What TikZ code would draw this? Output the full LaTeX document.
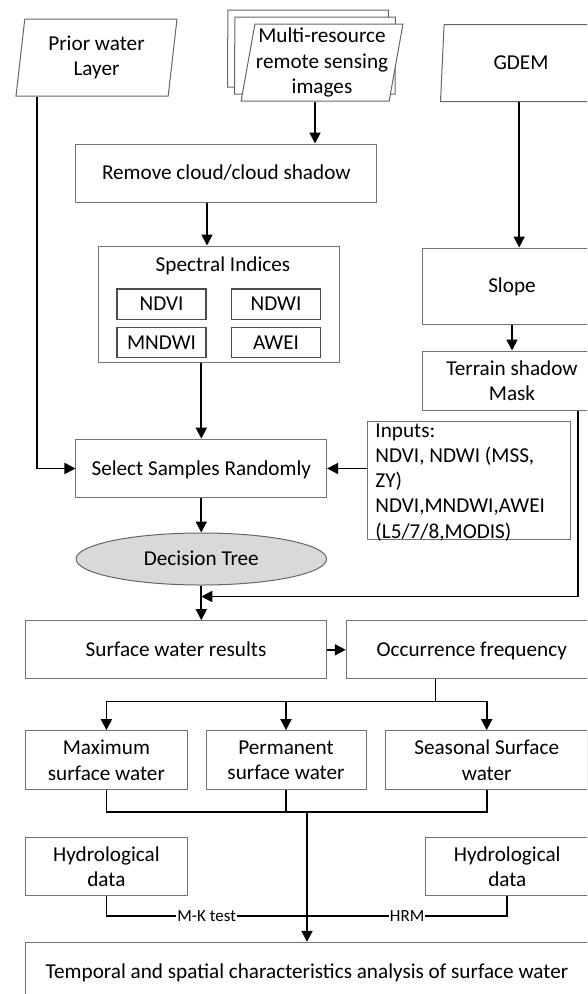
\documentclass[tikz,border=0pt]{standalone}
\usepackage{fontspec}
\setmainfont{Carlito}
\usetikzlibrary{shapes.geometric,arrows.meta}

\begin{document}
\begin{tikzpicture}[
  x=1pt, y=-1pt,
  font=\fontsize{21.2}{25.3}\selectfont,
  box/.style={draw=black!55, line width=1pt, fill=white, align=center,
               inner sep=2pt},
  single/.style={text height=15pt, text depth=1.5pt},
  datain/.style={trapezium, trapezium left angle=79, trapezium right angle=101,
               trapezium stretches body, draw=black!60, line width=1pt,
               fill=white, align=center, minimum width=161, minimum height=77,
               inner sep=1pt},
  idx/.style={draw=black!70, line width=1.3pt, minimum width=89,
               minimum height=30.3, inner sep=1pt, single},
  dtree/.style={ellipse, draw=black!60, line width=1pt, fill=gray!30,
               minimum width=250.5, minimum height=52, inner sep=0pt, single},
  arrow/.style={-{Triangle[length=11pt,width=11pt]}, line width=1.8pt},
  link/.style={line width=1.8pt},
  lbl/.style={fill=white, inner sep=1pt, font=\fontsize{17}{20}\selectfont},
]
\path[use as bounding box, fill=white] (0,0) rectangle (587,994);
\clip (0,0) rectangle (587,994);

% Dữ liệu vào: ba hình bình hành
\node[datain] (prior) at (96.5,57.5) {Prior water\\Layer};
\node[datain] (multiA) at (308,48.7) {};
\node[datain] (multiB) at (315,55.7) {};
\node[datain] (multi) at (322,62.7) {Multi-resource\\remote sensing\\images};
\node[datain, single] (gdem) at (521,63) {GDEM};

% Cột giữa: xử lý ảnh
\node[box, single, minimum width=300.7, minimum height=58] (remove)
  at (226.3,173) {Remove cloud/cloud shadow};
\node[box, minimum width=241, minimum height=116] (spec) at (218.5,304) {};
\node[anchor=north, inner sep=0pt, single] (specT)
  at ([xshift=4.5,yshift=-11]spec.north) {Spectral Indices};
\node[idx] (ndvi) at (161.5,304.2) {NDVI};
\node[idx, node distance=114.5, right of=ndvi] (ndwi) {NDWI};
\node[idx, node distance=38.1, below of=ndvi] (mndwi) {MNDWI};
\node[idx, node distance=114.5, right of=mndwi] (awei) {AWEI};
\node[box, single, minimum width=250.7, minimum height=58.7] (select)
  at (201.3,468.5) {Select Samples Randomly};
\node[dtree, node distance=90.5, below of=select] (tree) {Decision Tree};

% Cột phải: địa hình
\node[box, single, minimum width=180, minimum height=76] (slope)
  at (512,286) {Slope};
\node[box, minimum width=180, minimum height=59, node distance=94.5,
  below of=slope] (terrain) {Terrain shadow\\Mask};
\node[box, align=flush left, text width=187.7, inner xsep=7.8, inner ysep=0pt,
  text height=16pt, text depth=102.3pt] (inputs) at (469.3,480.2)
  {Inputs:\\NDVI, NDWI (MSS,\\ZY)\\NDVI,MNDWI,AWEI\\(L5/7/8,MODIS)};

% Kết quả và phân tích
\node[box, single, minimum width=301, minimum height=58.3, node distance=90.8,
  below of=tree, xshift=-25.3] (surface) {Surface water results};
\node[box, single, minimum width=250.8, minimum height=58.3, node distance=295.7,
  right of=surface] (occur) {Occurrence frequency};
\node[box, minimum width=161.7, minimum height=59.3, node distance=110.5,
  below of=surface, xshift=-69.6] (maxsw) {Maximum\\surface water};
\node[box, minimum width=160, minimum height=59.3, node distance=179.6,
  right of=maxsw] (permsw) {Permanent\\surface water};
\node[box, minimum width=202.2, minimum height=59.3, node distance=200.7,
  right of=permsw] (seassw) {Seasonal Surface\\water};
\node[box, minimum width=161.7, minimum height=58.3, node distance=106.5,
  below of=maxsw] (hydro1) {Hydrological\\data};
\node[box, minimum width=163.2, minimum height=58.3, node distance=400.9,
  right of=hydro1] (hydro2) {Hydrological\\data};
\node[box, single, minimum width=563, minimum height=58, node distance=104.5,
  below of=hydro1, xshift=200.6] (temporal)
  {Temporal and spatial characteristics analysis of surface water};

% Điểm nối
\coordinate (pw) at ([xshift=21.7]prior.bottom left corner);
\coordinate (rs) at ([xshift=-19.3]remove.south);
\coordinate (ts) at ([xshift=66]terrain.south);
\coordinate (dt) at ([yshift=-11]tree.south);
\coordinate (fork) at ([xshift=-36.3,yshift=-22]occur.south);
\coordinate (join) at ([yshift=-21.7]permsw.south -| temporal.north);
\coordinate (mk) at ([yshift=-19.7]hydro1.south -| join);

% Mũi tên
\draw[arrow] (pw) |- (select.west);
\draw[arrow] (multi.bottom side) -- (multi.bottom side |- remove.north);
\draw[arrow] (rs) -- (rs |- spec.north);
\draw[arrow] (spec.south -| select.north) -- (select.north);
\draw[arrow] (inputs.west |- select.east) -- (select.east);
\draw[arrow] (select) -- (tree);
\draw[arrow] (tree.south) -- (tree.south |- surface.north);
\draw[arrow] (gdem.bottom side) -- (gdem.bottom side |- slope.north);
\draw[arrow] (slope) -- (terrain);
\draw[arrow] (ts) |- (dt);
\draw[arrow] (surface) -- (occur);
\draw[link] ([xshift=-36.3]occur.south) -- (fork);
\foreach \n in {maxsw,permsw,seassw}
  \draw[arrow] (fork) -| (\n.north);
\foreach \n in {maxsw,permsw,seassw}
  \draw[link] (\n.south) |- (join);
\draw[arrow] (join) -- (temporal.north);
\draw[link] (hydro1.south) |- node[lbl, pos=0.75] {M-K test} (mk);
\draw[link] (hydro2.south) |- node[lbl, pos=0.75] {HRM} (mk);
\end{tikzpicture}
\end{document}
